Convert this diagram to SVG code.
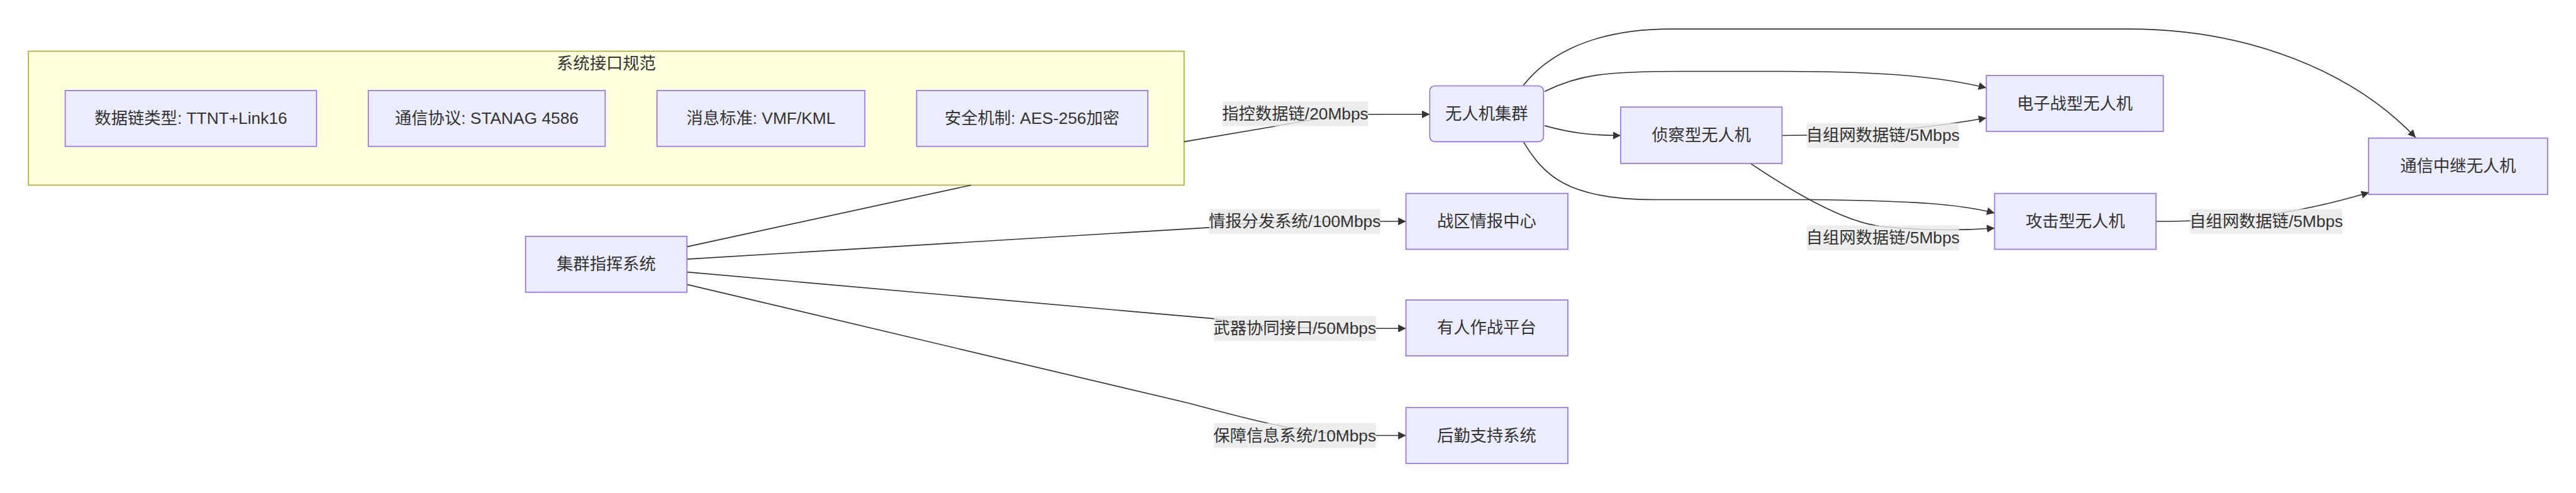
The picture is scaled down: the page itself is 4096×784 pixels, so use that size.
<svg xmlns="http://www.w3.org/2000/svg" width="4096" height="784" viewBox="0 0 4096 784">
<style>
.t{font-family:"Liberation Sans","Noto Sans CJK SC",sans-serif;font-size:32px;fill:#333333;text-anchor:middle;dominant-baseline:central}
.cl{fill:#ffffde;stroke:#aaaa33;stroke-width:2}
.nd{fill:#ECECFF;stroke:#9370DB;stroke-width:2}
.e{fill:none;stroke:#333333;stroke-width:2}
.ea{fill:none;stroke:#333333;stroke-width:2;marker-end:url(#arr)}
.lb{fill:#e8e8e8;fill-opacity:0.8}
</style>
<defs>
<marker id="arr" viewBox="0 0 10 10" refX="10" refY="5" markerWidth="15" markerHeight="15" markerUnits="userSpaceOnUse" orient="auto">
<path d="M0,0 L10,5 L0,10 z" fill="#333333"/>
</marker>
</defs>
<rect width="4096" height="784" fill="#ffffff"/>
<g transform="scale(0.8225)">
<g id="cluster-interface">
<rect class="cl" x="55" y="99" width="2234" height="259"/>
<text class="t" x="1172" y="123">系统接口规范</text>
</g>
<g id="node-datalink">
<rect class="nd" x="126" y="175" width="486" height="108"/>
<text class="t" x="369" y="229">数据链类型: TTNT+Link16</text>
</g>
<g id="node-protocol">
<rect class="nd" x="712" y="175" width="458" height="108"/>
<text class="t" x="941" y="229">通信协议: STANAG 4586</text>
</g>
<g id="node-message">
<rect class="nd" x="1270" y="175" width="402" height="108"/>
<text class="t" x="1471" y="229">消息标准: VMF/KML</text>
</g>
<g id="node-security">
<rect class="nd" x="1772" y="175" width="447" height="108"/>
<text class="t" x="1995" y="229">安全机制: AES-256加密</text>
</g>
<g id="connectors">
<path class="e" d="M1328,477 L1877,358"/>
<path class="ea" d="M2289,274 L2460,245 C2540,230 2600,221 2660,221 L2764,221"/>
<path class="ea" d="M1328,501 L2338,440 C2420,428 2500,428 2667,428 L2718,428"/>
<path class="ea" d="M1328,526 L2345,616 C2420,632 2500,635 2660,635 L2718,635"/>
<path class="ea" d="M1328,550 L2300,780 C2420,812 2520,842 2660,842 L2718,842"/>
<path class="ea" d="M2945,165 C2980,120 3060,56 3230,56 L4115,56 C4350,56 4550,140 4670,266"/>
<path class="ea" d="M2986,177 C3050,145 3100,138 3250,138 L3450,138 C3650,138 3760,150 3840,170"/>
<path class="ea" d="M2986,243 C3040,258 3080,262 3133,262"/>
<path class="ea" d="M2945,274 C2985,340 3030,386 3200,386 L3500,386 C3700,388 3790,395 3856,412"/>
<path class="ea" d="M3445,262 C3560,262 3720,250 3840,228"/>
<path class="ea" d="M3384,316 C3450,360 3560,430 3640,438 C3720,446 3790,446 3856,441"/>
<path class="ea" d="M4168,428 C4300,428 4420,420 4580,372"/>
</g>
<g id="edge-labels">
<rect class="lb" x="2363" y="196" width="282" height="48"/>
<text class="t" x="2504" y="220">指控数据链/20Mbps</text>
<rect class="lb" x="2338" y="404" width="330" height="48"/>
<text class="t" x="2503" y="428">情报分发系统/100Mbps</text>
<rect class="lb" x="2347" y="611" width="313" height="48"/>
<text class="t" x="2503" y="635">武器协同接口/50Mbps</text>
<rect class="lb" x="2347" y="818" width="313" height="48"/>
<text class="t" x="2503" y="842">保障信息系统/10Mbps</text>
<rect class="lb" x="3493" y="238" width="294" height="48"/>
<text class="t" x="3640" y="262">自组网数据链/5Mbps</text>
<rect class="lb" x="3493" y="436" width="294" height="48"/>
<text class="t" x="3640" y="460">自组网数据链/5Mbps</text>
<rect class="lb" x="4234" y="404" width="294" height="48"/>
<text class="t" x="4381" y="428">自组网数据链/5Mbps</text>
</g>
<g id="node-command">
<rect class="nd" x="1016" y="457" width="312" height="108"/>
<text class="t" x="1172" y="511">集群指挥系统</text>
</g>
<g id="node-swarm">
<rect class="nd" x="2764" y="166" width="220" height="108" rx="10" ry="10"/>
<text class="t" x="2874" y="220">无人机集群</text>
</g>
<g id="node-intel">
<rect class="nd" x="2718" y="374" width="313" height="108"/>
<text class="t" x="2874" y="428">战区情报中心</text>
</g>
<g id="node-manned">
<rect class="nd" x="2718" y="580" width="313" height="108"/>
<text class="t" x="2874" y="634">有人作战平台</text>
</g>
<g id="node-logistics">
<rect class="nd" x="2718" y="788" width="313" height="108"/>
<text class="t" x="2874" y="842">后勤支持系统</text>
</g>
<g id="node-recon">
<rect class="nd" x="3133" y="207" width="312" height="109"/>
<text class="t" x="3289" y="262">侦察型无人机</text>
</g>
<g id="node-ew">
<rect class="nd" x="3840" y="146" width="342" height="108"/>
<text class="t" x="4011" y="200">电子战型无人机</text>
</g>
<g id="node-attack">
<rect class="nd" x="3856" y="374" width="312" height="108"/>
<text class="t" x="4012" y="428">攻击型无人机</text>
</g>
<g id="node-relay">
<rect class="nd" x="4579" y="267" width="346" height="109"/>
<text class="t" x="4752" y="321">通信中继无人机</text>
</g>
</g>
</svg>
